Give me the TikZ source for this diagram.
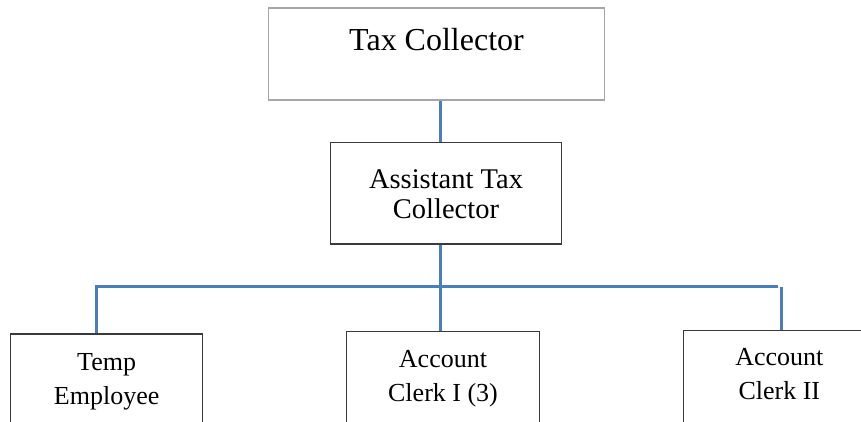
\documentclass[tikz,border=0pt]{standalone}
\usepackage{fontspec}
\setmainfont{Liberation Serif}
\definecolor{linkblue}{HTML}{4A7EBB}
\definecolor{softgrey}{HTML}{A6A6A6}
\definecolor{edgedark}{HTML}{3A3A3A}
% stacked lines whose first baseline is the node's baseline
\newcommand{\stackrows}[1]{\begin{tabular}[t]{@{}c@{}}#1\end{tabular}}
\begin{document}
\begin{tikzpicture}[x=1pt,y=-1pt,
  orgbox/.style={draw=edgedark, line width=1.3pt, inner sep=0pt,
                 anchor=north west, text=black},
  lowbox/.style={orgbox, minimum width=192pt, text depth=100pt,
                 font=\fontsize{26}{34}\selectfont},
  conn/.style={draw=linkblue, line width=3pt}]
\useasboundingbox (0,0) rectangle (861,421);
\fill[white] (0,0) rectangle (861,421);

% head of office
\node[orgbox, draw=softgrey, minimum width=336.3pt,
      text height=42.7pt, text depth=49.3pt,
      font=\fontsize{32}{36}\selectfont]
  (chief) at (267.7,7.3) {Tax Collector};

% deputy
\node[orgbox, minimum width=230.7pt,
      text height=46.3pt, text depth=55pt,
      font=\fontsize{28.5}{29.5}\selectfont]
  (asst) at (330,142) {\stackrows{Assistant Tax\\Collector}};

% staff row, running on past the lower edge of the sheet
\node[lowbox, text height=36.7pt]
  (temp) at (10,333.3) {\stackrows{Temp\\Employee}};
\node[lowbox, minimum width=192.7pt, text height=35.7pt]
  (clerki) at (346,331) {\stackrows{Account\\Clerk I (3)}};
\node[lowbox, text height=35pt]
  (clerkii) at (682.7,330) {\stackrows{Account\\Clerk II}};

% connector routing
\coordinate (spine) at (440.5,0);
\coordinate (bus) at (0,286.5);
\coordinate (dropL) at (96.5,0);
\coordinate (dropR) at (781.3,0);
\coordinate (busEnd) at (778,286.5);

\draw[conn] (chief.south -| spine) -- (asst.north -| spine);
\draw[conn] (asst.south -| spine) -- (clerki.north -| spine);
\draw[conn] (temp.north -| dropL) |- (busEnd);
\draw[conn] (dropR |- bus) -- (clerkii.north -| dropR);
\end{tikzpicture}
\end{document}
